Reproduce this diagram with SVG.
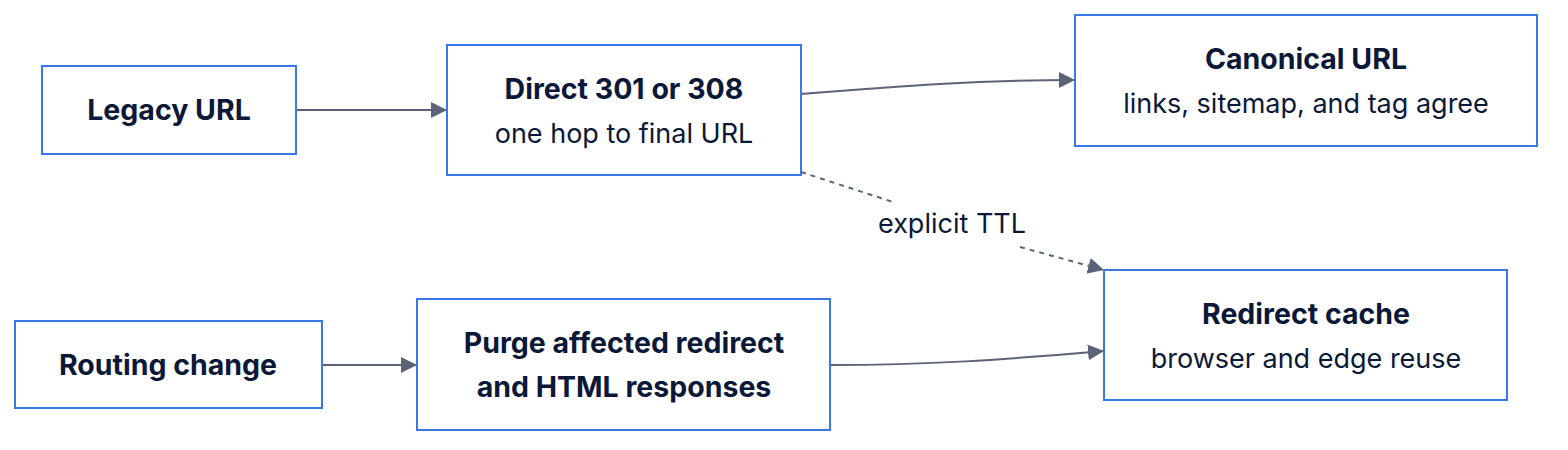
<svg xmlns="http://www.w3.org/2000/svg" width="1568" height="450" viewBox="0 0 1568 450">
<style>
.box{fill:#ffffff;stroke:#3b78e7;stroke-width:2}
.t{font-family:Inter,"Noto Sans",sans-serif;font-size:27px;fill:#0b1838;text-anchor:middle}
.b{font-weight:700;font-size:28.5px}
.e{fill:none;stroke:#5b6477;stroke-width:2}
.d{stroke-dasharray:5 5}
.lbl{font-family:Inter,"Noto Sans",sans-serif;font-size:27px;fill:#0b1838;text-anchor:middle}
</style>
<defs>
<marker id="arrh" viewBox="0 0 10 10" refX="10" refY="5" markerWidth="16" markerHeight="16" markerUnits="userSpaceOnUse" orient="auto">
<path d="M0,0 L10,5 L0,10 z" fill="#5b6477"/>
</marker>
</defs>
<rect width="1568" height="450" fill="#ffffff"/>
<g id="connectors">
<path class="e" d="M296,110 L447,110" marker-end="url(#arrh)"/>
<path class="e" d="M801,94 C900,86 980,80 1075,80" marker-end="url(#arrh)"/>
<path class="e d" d="M801,172 L893,202" />
<path class="e d" d="M1020,247 L1104,270" marker-end="url(#arrh)"/>
<path class="e" d="M322,365 L417,365" marker-end="url(#arrh)"/>
<path class="e" d="M830,365 C930,365 1000,360 1104,351" marker-end="url(#arrh)"/>
<text class="lbl" x="952" y="233">explicit TTL</text>
</g>
<g id="legacy">
<rect class="box" x="42" y="66" width="254" height="88"/>
<text class="t b" x="169" y="120">Legacy URL</text>
</g>
<g id="direct">
<rect class="box" x="447" y="45" width="354" height="130"/>
<text class="t b" x="624" y="99">Direct 301 or 308</text>
<text class="t" x="624" y="143">one hop to final URL</text>
</g>
<g id="canonical">
<rect class="box" x="1075" y="15" width="462" height="131"/>
<text class="t b" x="1306" y="69">Canonical URL</text>
<text class="t" x="1306" y="113">links, sitemap, and tag agree</text>
</g>
<g id="routing">
<rect class="box" x="15" y="321" width="307" height="87"/>
<text class="t b" x="168" y="375">Routing change</text>
</g>
<g id="purge">
<rect class="box" x="417" y="299" width="413" height="131"/>
<text class="t b" x="624" y="353">Purge affected redirect</text>
<text class="t b" x="624" y="397">and HTML responses</text>
</g>
<g id="cache">
<rect class="box" x="1104" y="270" width="403" height="130"/>
<text class="t b" x="1306" y="324">Redirect cache</text>
<text class="t" x="1306" y="368">browser and edge reuse</text>
</g>
</svg>
